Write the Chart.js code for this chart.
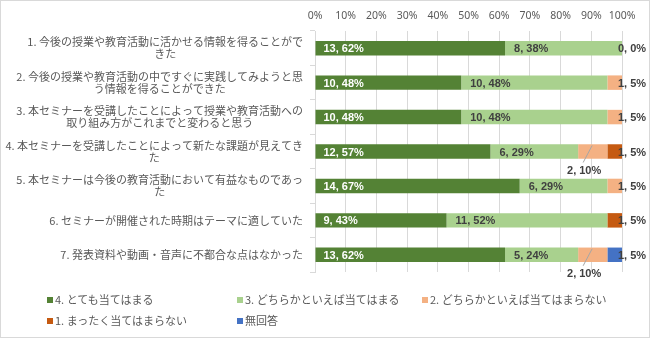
<!DOCTYPE html>
<html>
<head>
<meta charset="utf-8">
<script src="https://cdn.jsdelivr.net/npm/chart.js@4.4.0/dist/chart.umd.min.js"></script>
<style>
	html, body { margin: 0; padding: 0; background: #fff; }
	#wrap { position: relative; width: 650px; height: 338px; }
	#chart { position: absolute; left: 0; top: 0; }
	#legend {
		position: absolute; left: 47px; top: 288px;
		display: grid; grid-template-columns: 190px 185px auto;
		grid-auto-rows: 21px; align-items: center;
		font: 11px "Noto Sans CJK JP", sans-serif; color: #595959;
	}
	#legend span.box { display: inline-block; width: 6px; height: 6px; margin-right: 2px; vertical-align: 1px; }
</style>
</head>
<body>
<div id="wrap">
	<canvas id="chart" width="650" height="338"></canvas>
	<div id="legend"></div>
</div>
<script>
// categories (line breaks as in the original labels)
const categories = [
	["1. 今後の授業や教育活動に活かせる情報を得ることがで", "きた"],
	["2. 今後の授業や教育活動の中ですぐに実践してみようと思", "う情報を得ることができた"],
	["3. 本セミナーを受講したことによって授業や教育活動への", "取り組み方がこれまでと変わると思う"],
	["4. 本セミナーを受講したことによって新たな課題が見えてき", "た"],
	["5. 本セミナーは今後の教育活動において有益なものであっ", "た"],
	["6. セミナーが開催された時期はテーマに適していた"],
	["7. 発表資料や動画・音声に不都合な点はなかった"],
];

const seriesNames = ["4. とても当てはまる", "3. どちらかといえば当てはまる", "2. どちらかといえば当てはまらない", "1. まったく当てはまらない", "無回答"];
const seriesColors = ["#548235", "#a9d18e", "#f4b183", "#c55a11", "#4472c4"];

// respondent counts per category (null = no entry)
const veryMuch   = [13, 10, 10, 12, 14, 9, 13];
const somewhat   = [8, 10, 10, 6, 6, 11, 5];
const notReally  = [0, 1, 1, 2, 1, null, 2];
const notAtAll   = [null, null, null, 1, null, 1, null];
const noAnswer   = [null, null, null, null, null, null, 1];
const counts = [veryMuch, somewhat, notReally, notAtAll, noAnswer];

const tickValues = [0, 10, 20, 30, 40, 50, 60, 70, 80, 90, 100];

const totals = categories.map((c, i) => counts.reduce((sum, s) => sum + (s[i] || 0), 0));
const pct = (n, i) => n === null ? null : n / totals[i] * 100;

const labelFont = 'bold 11px "Liberation Sans", Arial, sans-serif';
const catFont = '11px "Noto Sans CJK JP", sans-serif';
const grey = "#595959";

// white background and thin frame
const framePlugin = {
	id: "frame",
	beforeDraw(chart) {
		const ctx = chart.ctx;
		ctx.save();
		ctx.fillStyle = "#fff";
		ctx.fillRect(0, 0, chart.width, chart.height);
		ctx.strokeStyle = "#d9d9d9";
		ctx.strokeRect(0.5, 0.5, chart.width - 1, chart.height - 1);
		ctx.restore();
	},
};

// category names: block right aligned to the axis, lines centred in the block
const categoryPlugin = {
	id: "categoryLabels",
	afterDraw(chart) {
		const ctx = chart.ctx;
		const yScale = chart.scales.y;
		const right = yScale.right - 12;
		const lh = 12;
		ctx.save();
		ctx.font = catFont;
		ctx.fillStyle = grey;
		ctx.textAlign = "center";
		ctx.textBaseline = "middle";
		categories.forEach((lines, i) => {
			const y = yScale.getPixelForValue(i);
			const w = Math.max(...lines.map(l => ctx.measureText(l).width));
			const cx = right - w / 2;
			lines.forEach((l, k) => {
				ctx.fillText(l, cx, y + (k - (lines.length - 1) / 2) * lh);
			});
		});
		ctx.restore();
	},
};

// "count, percent" labels
const valuePlugin = {
	id: "valueLabels",
	afterDatasetsDraw(chart) {
		const ctx = chart.ctx;
		ctx.save();
		ctx.font = labelFont;
		ctx.textBaseline = "middle";
		counts.forEach((series, s) => {
			const meta = chart.getDatasetMeta(s);
			meta.data.forEach((bar, i) => {
				const n = series[i];
				if (n === null) return;
				const text = n + ", " + Math.round(pct(n, i)) + "%";
				const isLast = counts.slice(s + 1).every(other => other[i] === null);
				if (s === 0) {
					ctx.fillStyle = "#fff";
					ctx.textAlign = "left";
					ctx.fillText(text, bar.base + 8, bar.y + 1);
				} else if (s === 1) {
					ctx.fillStyle = "#404040";
					ctx.textAlign = "left";
					ctx.fillText(text, bar.base + 9, bar.y + 1);
				} else if (isLast) {
					ctx.fillStyle = "#404040";
					ctx.textAlign = "left";
					ctx.fillText(text, bar.x - 4, bar.y + 1);
				} else {
					// callout under the bar with a leader line
					ctx.strokeStyle = "#a6a6a6";
					ctx.lineWidth = 1;
					ctx.beginPath();
					ctx.moveTo(bar.base + 5, bar.y + 11);
					ctx.lineTo(bar.base + 14, bar.y - 6);
					ctx.stroke();
					ctx.fillStyle = "#404040";
					ctx.textAlign = "center";
					ctx.fillText(text, bar.base + 6, bar.y + 19);
				}
			});
		});
		ctx.restore();
	},
};

const chart = new Chart(document.getElementById("chart"), {
	type: "bar",
	data: {
		labels: categories.map(c => c.join("")),
		datasets: counts.map((series, s) => ({
			label: seriesNames[s],
			data: series.map(pct),
			backgroundColor: seriesColors[s],
			borderWidth: 0,
			barPercentage: 0.42,
			categoryPercentage: 1,
		})),
	},
	options: {
		indexAxis: "y",
		responsive: false,
		animation: false,
		layout: { padding: { left: 0, right: 28, top: 0, bottom: 66 } },
		plugins: {
			legend: { display: false },
			tooltip: { enabled: false },
		},
		scales: {
			x: {
				position: "top",
				stacked: true,
				min: 0,
				max: 100,
				afterBuildTicks: scale => { scale.ticks = tickValues.map(v => ({ value: v })); },
				afterFit: scale => { scale.height = 31; },
				ticks: {
					callback: v => v + "%",
					color: grey,
					font: { family: "Noto Sans, sans-serif", size: 10.5 },
					padding: 9,
					maxRotation: 0,
					minRotation: 0,
					autoSkip: false,
				},
				grid: { color: "#d9d9d9", drawTicks: false },
				border: { display: false },
			},
			y: {
				stacked: true,
				afterFit: scale => { scale.width = 315; },
				ticks: { display: false },
				grid: { offset: true, drawOnChartArea: false, tickLength: 5, color: "#d9d9d9" },
				border: { color: "#d9d9d9" },
			},
		},
	},
	plugins: [framePlugin, categoryPlugin, valuePlugin],
});

// legend in three columns, built from the datasets
const legend = document.getElementById("legend");
chart.data.datasets.forEach(ds => {
	const item = document.createElement("div");
	item.innerHTML = '<span class="box" style="background:' + ds.backgroundColor + '"></span>' + ds.label;
	legend.appendChild(item);
});
</script>
</body>
</html>
